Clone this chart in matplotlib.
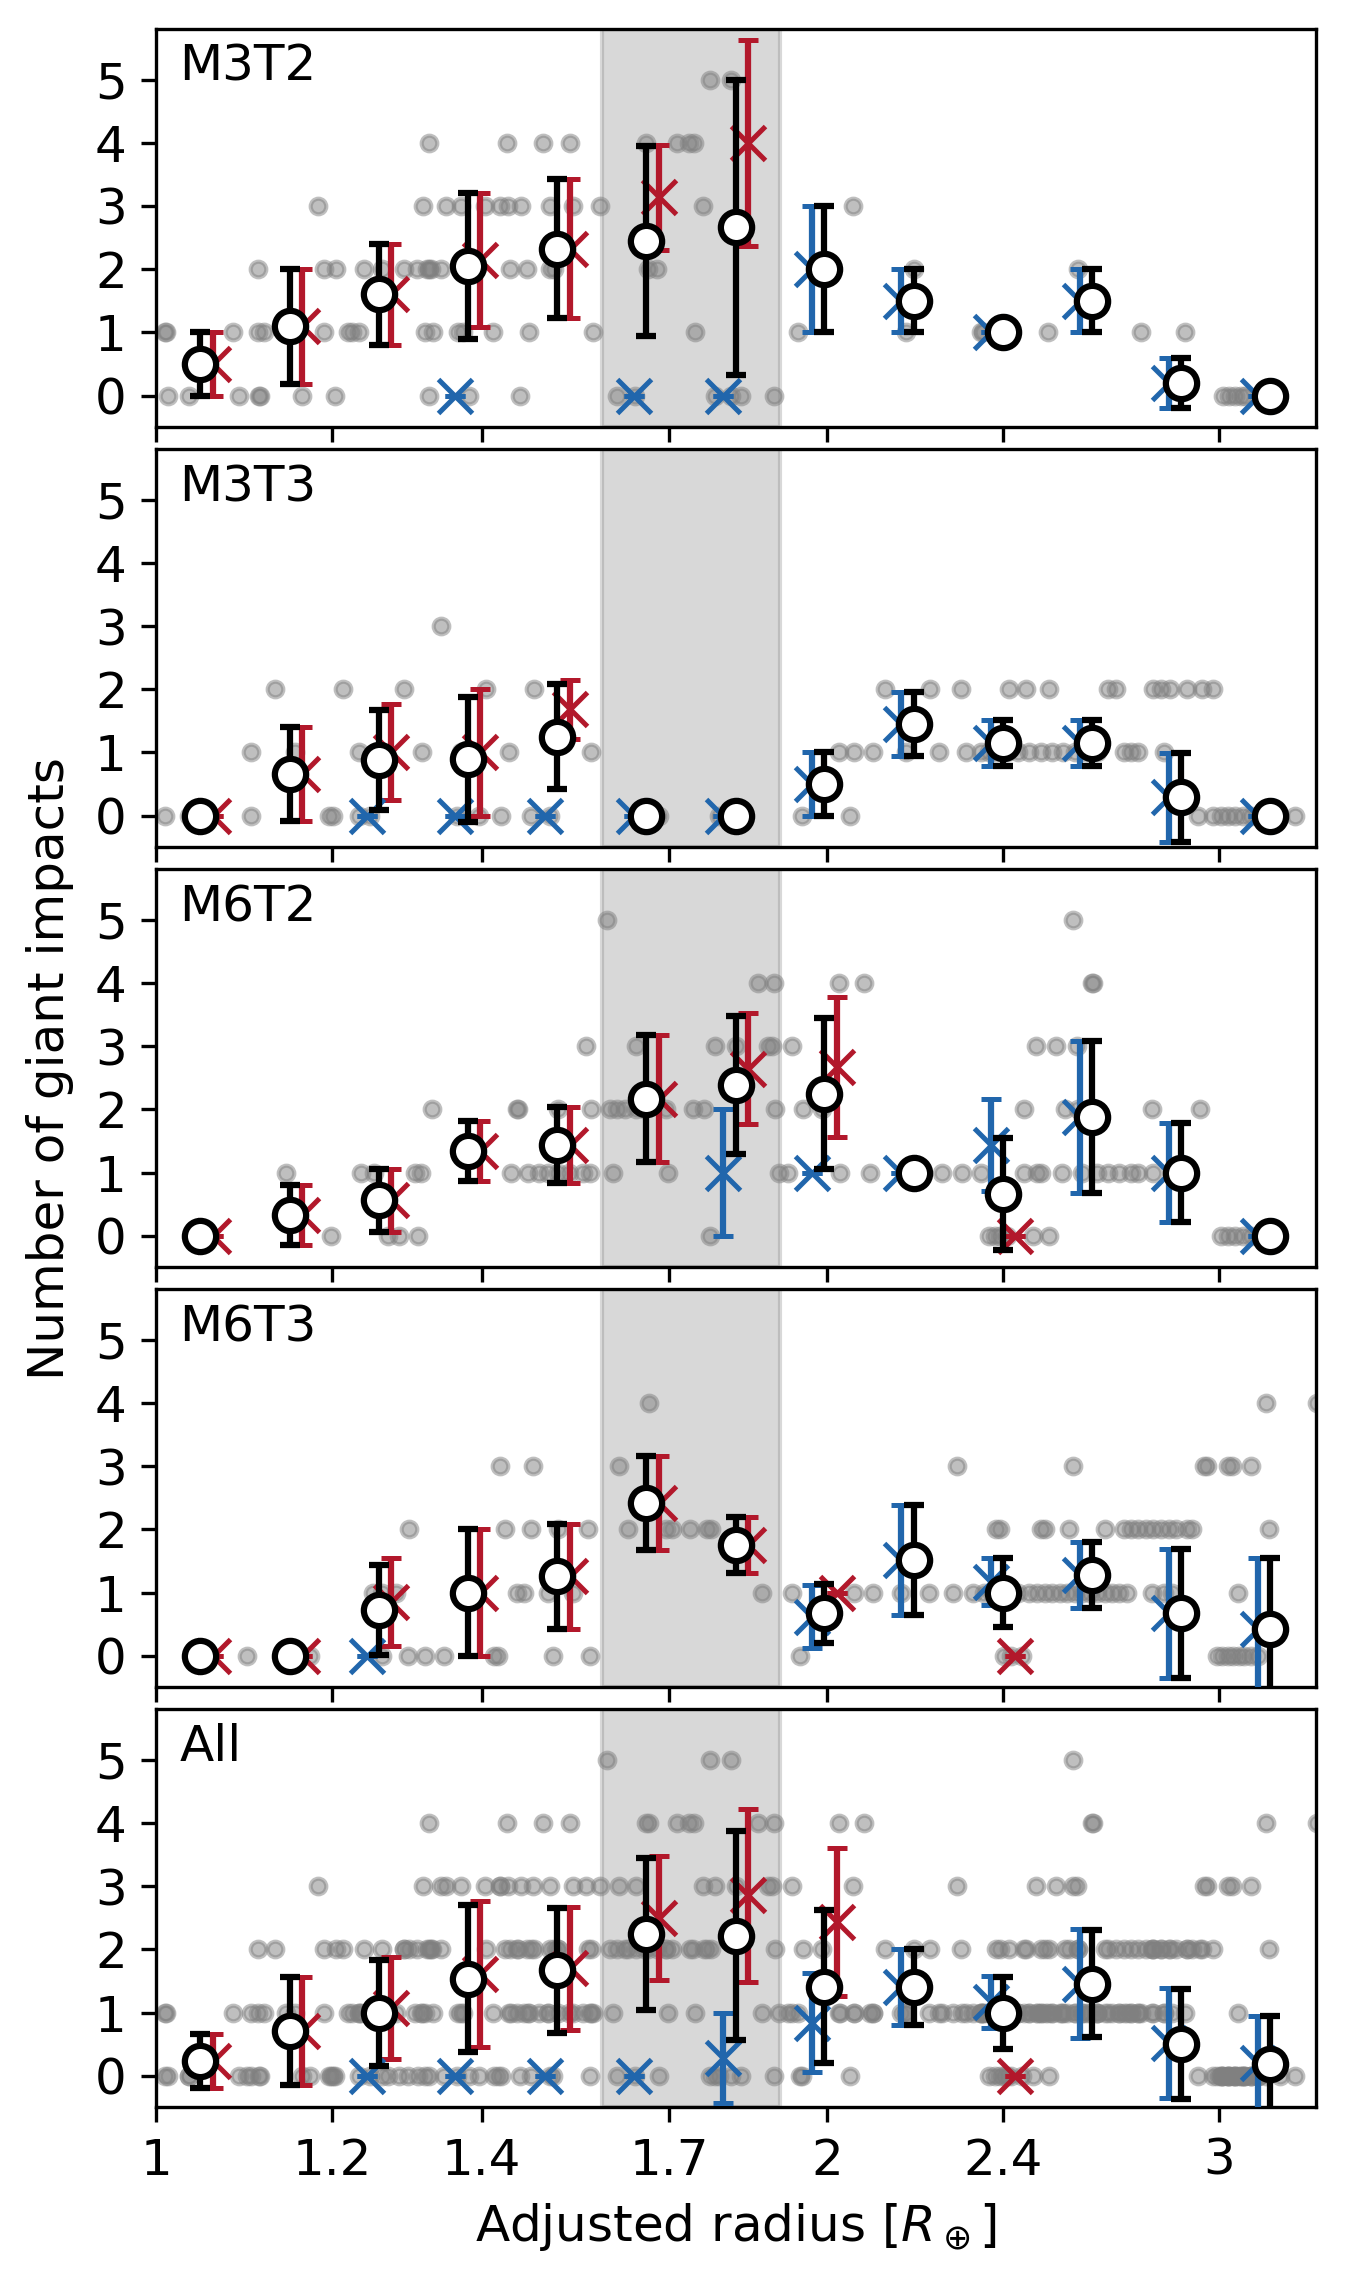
import numpy as np
import matplotlib.pyplot as plt
from matplotlib.ticker import NullLocator

plt.rcParams['font.size'] = 12

nan = np.nan
RED = '#b2182b'
BLUE = '#2166ac'

# bin centres (radius, R_earth)
radius_bins = [1.047, 1.148, 1.259, 1.380, 1.514, 1.660, 1.820, 1.995, 2.188, 2.399, 2.630, 2.884, 3.162]
gap_lo, gap_hi = 1.585, 1.905

xticks = [1, 1.2, 1.4, 1.7, 2, 2.4, 3]
xtick_labels = ['1', '1.2', '1.4', '1.7', '2', '2.4', '3']

# individual planets, grouped by number of giant impacts (index = count)
m3t2_gray = [
    [1.012, 1.035, 1.090, 1.112, 1.114, 1.163, 1.203, 1.326, 1.382, 1.457, 1.611, 1.640, 1.782, 1.811,
     1.830, 1.894, 3.012, 3.031, 3.050, 3.069, 3.082],
    [1.009, 1.010, 1.083, 1.111, 1.118, 1.190, 1.220, 1.225, 1.234, 1.321, 1.331, 1.366, 1.374, 1.416,
     1.470, 1.570, 1.746, 1.941, 2.170, 2.346, 2.350, 2.513, 2.767, 2.895],
    [1.111, 1.190, 1.204, 1.240, 1.263, 1.292, 1.310, 1.323, 1.326, 1.329, 1.342, 1.441, 1.467, 1.503,
     1.509, 1.663, 1.679, 2.189, 2.594],
    [1.182, 1.318, 1.350, 1.371, 1.405, 1.427, 1.438, 1.458, 1.503, 1.539, 1.582, 1.759, 2.055],
    [1.326, 1.437, 1.491, 1.534, 1.660, 1.713, 1.734, 1.744],
    [1.773, 1.811],
]
m3t3_gray = [
    [1.009, 1.035, 1.103, 1.196, 1.201, 1.234, 1.248, 1.365, 1.396, 1.429, 1.474, 1.503, 1.682, 1.789,
     1.949, 2.048, 2.936, 2.982, 3.005, 3.028, 3.051, 3.075, 3.099, 3.123, 3.196, 3.246],
    [1.103, 1.155, 1.234, 1.316, 1.370, 1.440, 1.568, 2.025, 2.057, 2.097, 2.170, 2.247, 2.309, 2.346,
     2.364, 2.382, 2.410, 2.438, 2.466, 2.495, 2.525, 2.554, 2.584, 2.614, 2.645, 2.718, 2.739, 2.760,
     2.835],
    [1.131, 1.213, 1.292, 1.407, 1.478, 2.125, 2.225, 2.297, 2.415, 2.457, 2.515, 2.675, 2.696, 2.803,
     2.825, 2.851, 2.902, 2.947, 2.982],
    [1.342],
]
m6t2_gray = [
    [1.198, 1.271, 1.285, 1.311, 1.773, 2.364, 2.379, 2.393, 2.410, 2.476, 2.515, 3.005, 3.028, 3.051,
     3.075, 3.099, 3.123, 3.148],
    [1.144, 1.236, 1.253, 1.307, 1.315, 1.443, 1.469, 1.486, 1.500, 1.515, 1.532, 1.554, 1.566, 1.603,
     1.698, 1.904, 1.921, 2.028, 2.092, 2.252, 2.300, 2.346, 2.453, 2.486, 2.495, 2.550, 2.604, 2.645,
     2.675, 2.706, 2.739, 2.760, 2.803],
    [1.330, 1.452, 1.454, 1.515, 1.568, 1.599, 1.611, 1.624, 1.643, 1.656, 1.694, 1.741, 1.762, 1.896,
     1.952, 1.991, 2.453, 2.558, 2.594, 2.799, 2.940],
    [1.560, 1.643, 1.782, 1.820, 1.882, 1.889, 1.930, 2.482, 2.534, 2.590],
    [1.863, 1.893, 2.025, 2.078, 2.630, 2.634],
    [1.593, 2.580],
]
m6t3_gray = [
    [1.099, 1.173, 1.263, 1.297, 1.320, 1.346, 1.418, 1.424, 1.507, 1.566, 1.945, 2.401, 2.419, 2.447,
     2.994, 3.010, 3.028, 3.044, 3.063, 3.079, 3.099, 3.123],
    [1.251, 1.263, 1.282, 1.452, 1.463, 1.500, 1.538, 1.870, 1.930, 2.057, 2.097, 2.159, 2.222, 2.278,
     2.327, 2.354, 2.373, 2.438, 2.466, 2.486, 2.505, 2.525, 2.545, 2.564, 2.584, 2.604, 2.624, 2.645,
     2.665, 2.686, 2.706, 2.728, 2.799, 2.835, 2.858, 3.059],
    [1.299, 1.435, 1.474, 1.515, 1.562, 1.628, 1.694, 1.704, 1.737, 1.768, 1.775, 2.382, 2.391, 2.495,
     2.505, 2.570, 2.667, 2.718, 2.739, 2.760, 2.782, 2.803, 2.825, 2.847, 2.869, 2.902, 2.918, 3.160],
    [1.427, 1.476, 1.614, 2.287, 2.580, 2.954, 2.963, 3.028, 3.040, 3.099],
    [1.665, 3.148, 3.318],
]

# binned means and standard deviations: all planets (black), red and blue subsets
m3t2_mean = [0.5, 1.1, 1.6, 2.05, 2.32, 2.45, 2.66, 2.0, 1.5, 1.0, 1.5, 0.2, 0.0]
m3t2_std = [0.5, 0.91, 0.8, 1.15, 1.1, 1.5, 2.33, 1.0, 0.5, 0.0, 0.5, 0.4, 0.0]
m3t2_red_mean = [0.5, 1.1, 1.6, 2.15, 2.32, 3.14, 4.0, nan, nan, nan, nan, nan, nan]
m3t2_red_std = [0.5, 0.91, 0.8, 1.06, 1.1, 0.83, 1.63, nan, nan, nan, nan, nan, nan]
m3t2_blue_mean = [nan, nan, nan, 0.0, nan, 0.0, 0.0, 2.0, 1.5, 1.0, 1.5, 0.2, 0.0]
m3t2_blue_std = [nan, nan, nan, 0.0, nan, 0.0, 0.0, 1.0, 0.5, 0.0, 0.5, 0.4, 0.0]

m3t3_mean = [0.0, 0.66, 0.88, 0.89, 1.25, 0.0, 0.0, 0.5, 1.45, 1.15, 1.15, 0.29, 0.0]
m3t3_std = [0.0, 0.75, 0.79, 0.99, 0.83, 0.0, 0.0, 0.5, 0.5, 0.36, 0.36, 0.7, 0.0]
m3t3_red_mean = [0.0, 0.66, 1.0, 1.0, 1.68, nan, nan, nan, nan, nan, nan, nan, nan]
m3t3_red_std = [0.0, 0.75, 0.76, 1.0, 0.47, nan, nan, nan, nan, nan, nan, nan, nan]
m3t3_blue_mean = [nan, nan, 0.0, 0.0, 0.0, 0.0, 0.0, 0.5, 1.45, 1.15, 1.15, 0.29, 0.0]
m3t3_blue_std = [nan, nan, 0.0, 0.0, 0.0, 0.0, 0.0, 0.5, 0.5, 0.36, 0.36, 0.7, 0.0]

m6t2_mean = [0.0, 0.33, 0.56, 1.34, 1.43, 2.17, 2.38, 2.25, 1.0, 0.66, 1.88, 1.0, 0.0]
m6t2_std = [0.0, 0.47, 0.5, 0.47, 0.6, 1.0, 1.09, 1.2, 0.0, 0.88, 1.2, 0.78, 0.0]
m6t2_red_mean = [0.0, 0.33, 0.56, 1.34, 1.43, 2.17, 2.64, 2.67, nan, 0.0, nan, nan, nan]
m6t2_red_std = [0.0, 0.47, 0.5, 0.47, 0.6, 1.0, 0.88, 1.11, nan, 0.0, nan, nan, nan]
m6t2_blue_mean = [nan, nan, nan, nan, nan, nan, 1.0, 1.0, 1.0, 1.44, 1.88, 1.0, 0.0]
m6t2_blue_std = [nan, nan, nan, nan, nan, nan, 1.0, 0.0, 0.0, 0.73, 1.2, 0.78, 0.0]

m6t3_mean = [0.0, 0.0, 0.72, 1.0, 1.26, 2.42, 1.75, 0.67, 1.51, 1.0, 1.28, 0.67, 0.42]
m6t3_std = [0.0, 0.0, 0.71, 1.0, 0.83, 0.74, 0.44, 0.47, 0.87, 0.54, 0.52, 1.02, 1.12]
m6t3_red_mean = [0.0, 0.0, 0.85, 1.0, 1.26, 2.42, 1.75, 1.0, nan, 0.0, nan, nan, nan]
m6t3_red_std = [0.0, 0.0, 0.69, 1.0, 0.83, 0.74, 0.44, 0.0, nan, 0.0, nan, nan, nan]
m6t3_blue_mean = [nan, nan, 0.0, nan, nan, nan, nan, 0.62, 1.51, 1.17, 1.28, 0.67, 0.42]
m6t3_blue_std = [nan, nan, 0.0, nan, nan, nan, nan, 0.5, 0.87, 0.37, 0.52, 1.02, 1.12]

all_mean = [0.24, 0.71, 1.0, 1.54, 1.67, 2.24, 2.22, 1.41, 1.41, 1.0, 1.46, 0.51, 0.19]
all_std = [0.43, 0.85, 0.84, 1.17, 0.99, 1.2, 1.66, 1.21, 0.6, 0.57, 0.85, 0.87, 0.76]
all_red_mean = [0.24, 0.71, 1.07, 1.61, 1.70, 2.5, 2.86, 2.44, nan, 0.0, nan, nan, nan]
all_red_std = [0.43, 0.85, 0.81, 1.15, 0.97, 0.98, 1.37, 1.17, nan, 0.0, nan, nan, nan]
all_blue_mean = [nan, nan, 0.0, 0.0, 0.0, 0.0, 0.28, 0.84, 1.41, 1.17, 1.46, 0.52, 0.2]
all_blue_std = [nan, nan, 0.0, 0.0, 0.0, 0.0, 0.71, 0.78, 0.6, 0.41, 0.86, 0.87, 0.75]

# "All" shows every planet of the four runs
all_gray = [[] for _ in range(6)]
for g in [m3t2_gray, m3t3_gray, m6t2_gray, m6t3_gray]:
    for n, radii in enumerate(g):
        all_gray[n] = all_gray[n] + radii

panels = [
    ('M3T2', m3t2_gray, m3t2_mean, m3t2_std, m3t2_red_mean, m3t2_red_std, m3t2_blue_mean, m3t2_blue_std),
    ('M3T3', m3t3_gray, m3t3_mean, m3t3_std, m3t3_red_mean, m3t3_red_std, m3t3_blue_mean, m3t3_blue_std),
    ('M6T2', m6t2_gray, m6t2_mean, m6t2_std, m6t2_red_mean, m6t2_red_std, m6t2_blue_mean, m6t2_blue_std),
    ('M6T3', m6t3_gray, m6t3_mean, m6t3_std, m6t3_red_mean, m6t3_red_std, m6t3_blue_mean, m6t3_blue_std),
    ('All', all_gray, all_mean, all_std, all_red_mean, all_red_std, all_blue_mean, all_blue_std),
]

fig, axes = plt.subplots(5, 1, sharex=True, figsize=(1348 / 300, 2284 / 300), dpi=300)
fig.subplots_adjust(left=0.1157, right=0.9759, top=0.9873, bottom=0.0773, hspace=0.055)

shift = 10 ** 0.0055
rb = np.array(radius_bins)
err_kw = dict(elinewidth=1.5, capsize=2.4, capthick=1.5)

for ax, (label, gray, mean, std, rmean, rstd, bmean, bstd) in zip(axes, panels):
    for n, radii in enumerate(gray):
        ax.scatter(radii, [n] * len(radii), s=14, color='gray', alpha=0.5, linewidths=1.0, zorder=1)
    ax.axvspan(gap_lo, gap_hi, color='gray', alpha=0.3, zorder=0.5)

    ax.errorbar(rb / shift, bmean, yerr=bstd, fmt='x', color=BLUE, ms=8, mew=1.2, zorder=3, **err_kw)
    ax.errorbar(rb * shift, rmean, yerr=rstd, fmt='x', color=RED, ms=8, mew=1.2, zorder=3, **err_kw)
    ax.errorbar(rb, mean, yerr=std, fmt='o', color='k', mfc='white', mec='k', ms=7.5, mew=1.5,
                zorder=4, **err_kw)

    ax.text(0.02, 0.965, label, transform=ax.transAxes, ha='left', va='top', fontsize=12)
    ax.set_ylim(-0.5, 5.8)
    ax.set_yticks(range(6))
    ax.set_xscale('log')
    ax.set_xlim(1.0, 3.314)
    ax.set_xticks(xticks)
    ax.set_xticklabels(xtick_labels)
    ax.xaxis.set_minor_locator(NullLocator())

axes[-1].set_xlabel(r'Adjusted radius [$R_\oplus$]')
fig.text(0.037, (0.9873 + 0.0773) / 2, 'Number of giant impacts', rotation=90, ha='center', va='center',
         fontsize=12)

fig.savefig('out.png', dpi=300)
